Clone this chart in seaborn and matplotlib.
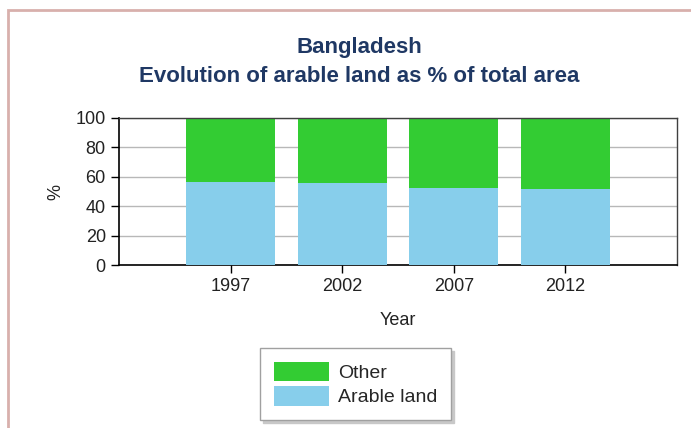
import matplotlib
matplotlib.use("Agg")
import matplotlib.pyplot as plt
import seaborn as sns
import pandas as pd
from matplotlib.patches import Rectangle, Patch

# Data
years = ["1997", "2002", "2007", "2012"]
arable = [56.5, 55.6, 52.6, 51.6]
total = [100, 100, 100, 100]

sns.set_style("white")
plt.rcParams["font.family"] = ["Liberation Sans", "DejaVu Sans"]

df = pd.DataFrame({"year": years, "arable": arable, "total": total})

fig = plt.figure(figsize=(6.91, 4.28), dpi=100)
ax = fig.add_axes([119 / 691, 1 - 265 / 428, 558 / 691, 147 / 428])

# stacked: green "Other" drawn full height, arable on top of it
sns.barplot(data=df, x="year", y="total", color="#33CC33", width=0.8,
            saturation=1, linewidth=0, ax=ax, zorder=2)
sns.barplot(data=df, x="year", y="arable", color="#87CEEB", width=0.8,
            saturation=1, linewidth=0, ax=ax, zorder=3)

ax.set_xlim(-1, 4)
ax.set_ylim(0, 100)
ax.set_yticks(range(0, 101, 20))
ax.yaxis.grid(True, color="#b8b8b8", linewidth=1, zorder=0)
ax.set_axisbelow(True)
for s in ["left", "bottom"]:
    ax.spines[s].set_color("black")
    ax.spines[s].set_linewidth(1.2)
for s in ["top", "right"]:
    ax.spines[s].set_color("#404040")
    ax.spines[s].set_linewidth(1)
ax.tick_params(axis="both", direction="out", length=6, width=1, color="black",
               labelsize=13, bottom=True, left=True, labelcolor="#222222")
ax.set_xlabel("Year", fontsize=13, labelpad=12, color="#222222")
ax.set_ylabel("%", fontsize=13, labelpad=8, color="#222222")

fig.text(0.52, 1 - 48 / 428, "Bangladesh", ha="center", va="center",
         fontsize=16, fontweight="bold", color="#1F3864")
fig.text(0.52, 1 - 76 / 428, "Evolution of arable land as % of total area",
         ha="center", va="center", fontsize=16, fontweight="bold", color="#1F3864")

handles = [Patch(facecolor="#33CC33", edgecolor="none", label="Other"),
           Patch(facecolor="#87CEEB", edgecolor="none", label="Arable land")]
leg = fig.legend(handles=handles, loc="center", bbox_to_anchor=(0.515, 1 - 384 / 428),
                 fontsize=14, frameon=True, fancybox=False,
                 shadow={"color": "#c8c8c8", "alpha": 1, "ox": 2, "oy": -2},
                 handlelength=2.8, handleheight=1.2, borderpad=0.7,
                 labelspacing=0.2, handletextpad=0.5, borderaxespad=0)
leg.get_frame().set_edgecolor("#a0a0a0")

# outer pinkish frame
fig.patches.append(Rectangle((8 / 691, -0.1), 1.2, 1 - 10 / 428 + 0.1,
                             transform=fig.transFigure, fill=False,
                             edgecolor="#d8b0ac", linewidth=2))

fig.savefig("out.png", dpi=100)
